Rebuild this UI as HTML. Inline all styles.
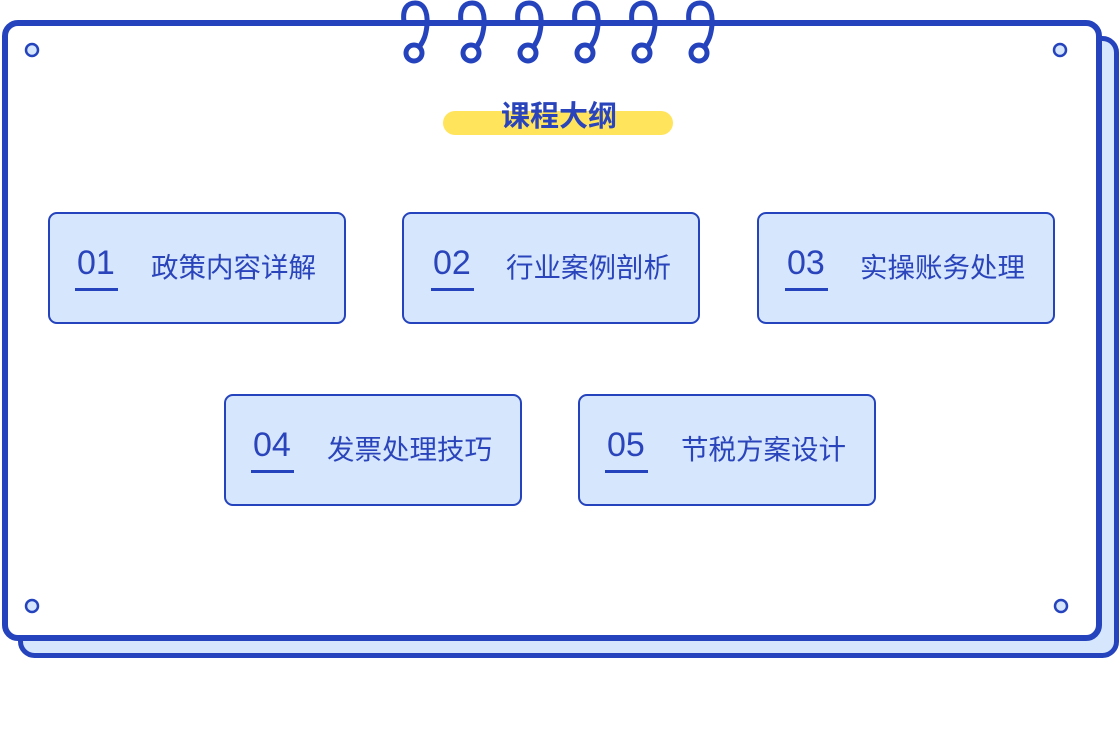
<!DOCTYPE html>
<html><head><meta charset="utf-8"><style>
body{margin:0;width:1120px;height:732px;background:#fff;overflow:hidden;font-family:"Liberation Sans","Noto Sans CJK SC",sans-serif}
svg{position:absolute;left:0;top:0}
.t{font-family:"Liberation Sans","Noto Sans CJK SC",sans-serif;fill:#2a44bb}
</style></head><body>
<svg width="1120" height="732" viewBox="0 0 1120 732">
<rect x="20.5" y="38.5" width="1096" height="617" rx="14" fill="#d6e6fc" stroke="#2443bd" stroke-width="5"/>
<rect x="5" y="23" width="1094" height="615" rx="13" fill="#fff" stroke="#2443bd" stroke-width="6"/>
<g fill="#d6e6fc" stroke="#2443bd" stroke-width="2.5">
<circle cx="32" cy="50" r="6"/><circle cx="1060" cy="50" r="6"/><circle cx="32" cy="606" r="6"/><circle cx="1061" cy="606" r="6"/>
</g>
<g fill="none" stroke="#2443bd" stroke-width="5" stroke-linecap="round">
<path id="r" d="M404 22 C402 8,408 3,415 3 C423 3,428 10,427 25 C426 35,424 40,420 46"/>
<circle cx="414" cy="53" r="8"/>
<use href="#r" x="57"/><circle cx="471" cy="53" r="8"/>
<use href="#r" x="114"/><circle cx="528" cy="53" r="8"/>
<use href="#r" x="171"/><circle cx="585" cy="53" r="8"/>
<use href="#r" x="228"/><circle cx="642" cy="53" r="8"/>
<use href="#r" x="285"/><circle cx="699" cy="53" r="8"/>
</g>
<rect x="443" y="111" width="230" height="24" rx="12" fill="#ffe45c"/>
<text x="559" y="126" text-anchor="middle" class="t" font-size="29" font-weight="bold" fill="#2443bd">课程大纲</text>
<g stroke="#2443bd" stroke-width="2" fill="#d6e6fc">
<rect x="49" y="213" width="296" height="110" rx="8"/>
<rect x="403" y="213" width="296" height="110" rx="8"/>
<rect x="758" y="213" width="296" height="110" rx="8"/>
<rect x="225" y="395" width="296" height="110" rx="8"/>
<rect x="579" y="395" width="296" height="110" rx="8"/>
</g>
<g fill="#2443bd">
<rect x="75" y="288" width="43" height="3"/>
<rect x="431" y="288" width="43" height="3"/>
<rect x="785" y="288" width="43" height="3"/>
<rect x="251" y="470" width="43" height="3"/>
<rect x="605" y="470" width="43" height="3"/>
</g>
<g class="t" font-size="34">
<text x="77" y="274">01</text><text x="433" y="274">02</text><text x="787" y="274">03</text>
<text x="253" y="456">04</text><text x="607" y="456">05</text>
</g>
<g class="t" font-size="27.5">
<text x="151" y="277">政策内容详解</text><text x="506" y="277">行业案例剖析</text><text x="860" y="277">实操账务处理</text>
<text x="327" y="459">发票处理技巧</text><text x="681" y="459">节税方案设计</text>
</g>
</svg>
</body></html>
